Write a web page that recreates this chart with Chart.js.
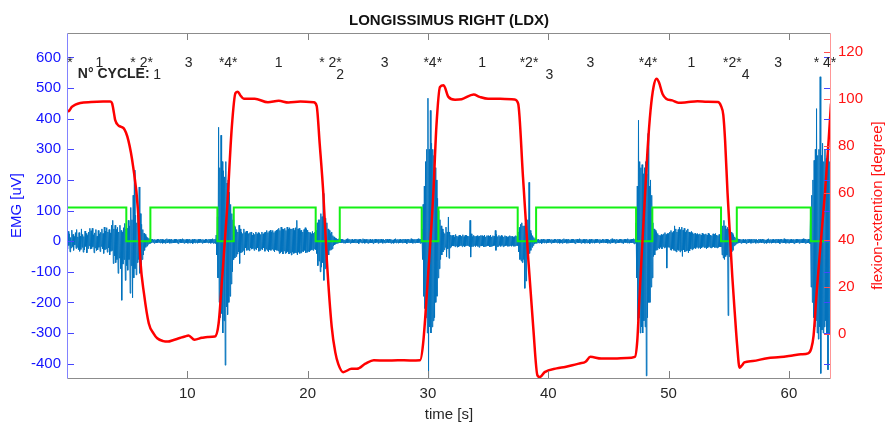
<!DOCTYPE html>
<html>
<head>
<meta charset="utf-8">
<script src="https://cdn.jsdelivr.net/npm/chart.js@4/dist/chart.umd.min.js"></script>
<style>
  html, body { margin: 0; padding: 0; background: #fff; }
  canvas { display: block; }
</style>
</head>
<body>
<canvas id="c" width="885" height="422"></canvas>
<script>
// ---- data -------------------------------------------------------------
// EMG of the right longissimus, one sample every EMG_STEP seconds [uV]
const EMG_STEP = 0.05;
const emgValues = [
  // 0 s
  18,-26,32,-14,24,-35,12,-22,36,-18,22,-30,15,-12,28,-24,38,-20,14,-28,
  28,-33,16,-27,40,-20,22,-36,15,-29,33,-17,25,-38,19,-24,30,-15,42,-26,
  34,-24,42,-18,21,-38,27,-22,38,-31,16,-28,35,-20,24,-34,29,-17,40,-25,
  25,-40,46,-28,33,-25,44,-36,30,-22,38,-45,27,-33,52,-30,68,-73,40,-48,
  52,-70,38,-60,45,-105,30,-55,52,-90,35,-193,30,-75,44,-60,58,-128,40,-80,
  // 5 s
  42,-95,68,-60,50,-170,110,-80,70,-185,150,-120,232,-90,85,-110,60,-70,95,-60,
  177,-105,90,-80,55,-60,38,-45,26,-30,22,-20,15,-16,12,-10,9,-8,8,-7,
  6,-5,7,-4,5,-7,6,-5,4,-6,7,-5,6,-4,5,-6,7,-5,6,-7,
  5,-6,4,-7,6,-5,8,-6,5,-4,6,-7,5,-6,7,-5,4,-6,6,-5,
  7,-5,6,-6,5,-8,6,-4,7,-5,5,-6,8,-5,6,-7,5,-5,6,-6,
  // 10 s
  6,-7,5,-5,7,-6,4,-6,6,-8,5,-5,7,-6,6,-4,5,-7,6,-5,
  6,-5,7,-4,5,-7,6,-5,4,-6,7,-5,6,-4,5,-6,7,-5,6,-7,
  6,-5,8,-7,6,-6,7,-8,20,-45,80,-120,372,-200,240,-250,346,-236,260,-300,
  230,-260,210,-405,260,-215,190,-240,200,-200,160,-180,120,-140,90,-100,70,-60,50,-55,
  45,-50,38,-42,30,-35,52,-73,40,-38,30,-35,25,-30,40,-45,28,-22,33,-30,
  // 15 s
  33,-28,25,-31,28,-22,30,-26,20,-24,26,-30,22,-25,30,-28,24,-22,28,-33,
  26,-30,22,-25,30,-28,24,-22,28,-33,30,-26,35,-30,28,-35,32,-28,36,-30,
  30,-26,35,-30,28,-35,32,-28,36,-30,38,-32,42,-40,35,-38,46,-34,40,-42,
  38,-32,42,-40,35,-38,46,-34,40,-42,44,-38,40,-45,40,-36,42,-40,35,-38,
  44,-38,68,-45,40,-36,42,-40,35,-38,36,-33,30,-35,38,-30,44,-38,40,-36,
  // 20 s
  36,-33,30,-35,28,-30,24,-28,32,-30,26,-25,30,-28,35,-40,60,-80,70,-65,
  70,-100,90,-85,80,-70,156,-128,110,-90,75,-70,60,-55,40,-45,35,-30,25,-28,
  30,-25,18,-15,14,-12,10,-9,8,-7,7,-6,8,-5,6,-6,7,-5,6,-6,
  5,-6,4,-7,6,-5,8,-6,5,-4,6,-7,5,-6,7,-5,4,-6,6,-5,
  7,-5,6,-6,5,-8,6,-4,7,-5,5,-6,8,-5,6,-7,5,-5,6,-6,
  // 25 s
  6,-7,5,-5,7,-6,4,-6,6,-8,5,-5,7,-6,6,-4,5,-7,6,-5,
  6,-5,7,-4,5,-7,6,-5,4,-6,7,-5,6,-4,5,-6,7,-5,6,-7,
  5,-6,4,-7,6,-5,8,-6,5,-4,6,-7,5,-6,7,-5,4,-6,6,-5,
  7,-5,6,-6,5,-8,6,-4,7,-5,5,-6,8,-5,6,-7,5,-5,6,-6,
  6,-5,7,-6,8,-5,6,-7,7,-6,40,-60,120,-180,180,-220,260,-250,300,-300,
  // 30 s
  467,-460,300,-280,427,-300,320,-280,300,-260,280,-250,240,-200,200,-180,140,-120,100,-90,
  70,-60,50,-45,40,-35,30,-28,25,-20,46,-52,30,-25,79,-56,30,-22,20,-18,
  18,-15,20,-16,14,-18,22,-15,17,-20,15,-18,20,-16,19,-14,16,-18,21,-15,
  15,-18,20,-16,19,-14,17,-15,16,-18,68,-52,24,-18,15,-17,19,-14,16,-18,
  16,-14,18,-17,15,-20,17,-15,19,-16,18,-15,16,-19,20,-17,14,-16,18,-15,
  // 35 s
  18,-15,16,-19,20,-17,14,-16,18,-15,16,-14,35,-30,22,-18,15,-17,19,-14,
  15,-17,19,-14,16,-18,14,-16,18,-15,16,-14,13,-17,15,-16,18,-14,16,-17,
  16,-14,13,-17,15,-16,18,-14,16,-15,30,-35,45,-60,55,-65,60,-70,50,-60,
  50,-154,60,-130,55,-55,70,-60,192,-40,35,-30,25,-20,18,-14,12,-9,8,-7,
  6,-7,5,-5,7,-6,4,-6,6,-8,5,-5,7,-6,6,-4,5,-7,6,-5,
  // 40 s
  6,-5,7,-4,5,-7,6,-5,4,-6,7,-5,6,-4,5,-6,7,-5,6,-7,
  5,-6,4,-7,6,-5,8,-6,5,-4,6,-7,5,-6,7,-5,4,-6,6,-5,
  7,-5,6,-6,5,-8,6,-4,7,-5,5,-6,8,-5,6,-7,5,-5,6,-6,
  6,-7,5,-5,7,-6,4,-6,6,-8,5,-5,7,-6,6,-4,5,-7,6,-5,
  6,-5,7,-4,5,-7,6,-5,4,-6,7,-5,6,-4,5,-6,7,-5,6,-7,
  // 45 s
  5,-6,4,-7,6,-5,8,-6,5,-4,6,-7,5,-6,7,-5,4,-6,6,-5,
  7,-5,6,-6,5,-8,6,-4,7,-5,5,-6,8,-5,6,-7,5,-5,6,-6,
  7,-6,8,-9,6,-7,60,-120,180,-258,395,-250,260,-300,240,-280,250,-300,220,-260,
  240,-280,260,-440,220,-250,352,-200,180,-200,200,-150,150,-120,60,-50,40,-45,35,-30,
  30,-28,25,-22,20,-25,18,-20,22,-25,20,-18,24,-22,28,-20,22,-88,25,-20,
  // 50 s
  25,-20,30,-28,35,-30,28,-25,32,-30,50,-32,40,-35,30,-28,38,-30,46,-35,
  38,-30,46,-50,36,-28,42,-35,30,-32,35,-30,40,-38,30,-32,28,-25,32,-28,
  28,-25,24,-22,26,-24,22,-20,25,-23,22,-20,24,-25,20,-22,26,-18,23,-21,
  22,-20,24,-25,20,-22,26,-18,23,-21,20,-22,18,-20,24,-19,22,-21,25,-20,
  20,-22,18,-20,22,-18,20,-19,35,-45,50,-55,68,-60,50,-50,40,-45,45,-243,
  // 55 s
  40,-50,35,-40,30,-35,25,-30,20,-15,14,-12,10,-8,8,-7,7,-6,6,-5,
  6,-7,5,-5,7,-6,4,-6,6,-8,5,-5,7,-6,6,-4,5,-7,6,-5,
  6,-5,7,-4,5,-7,6,-5,4,-6,7,-5,6,-4,5,-6,7,-5,6,-7,
  5,-6,4,-7,6,-5,8,-6,5,-4,6,-7,5,-6,7,-5,4,-6,6,-5,
  7,-5,6,-6,5,-8,6,-4,7,-5,5,-6,8,-5,6,-7,5,-5,6,-6,
  // 60 s
  6,-7,5,-5,7,-6,4,-6,6,-8,5,-5,7,-6,6,-4,5,-7,6,-5,
  6,-5,7,-6,8,-5,6,-7,7,-6,5,-6,7,-5,6,-8,80,-150,150,-200,
  200,-250,264,-280,300,-260,433,-300,280,-320,300,-280,537,-432,280,-290,320,-300,260,-280,
  300,-260,270,-300,280,-420,320,-300,260,-280,300
];

// trunk flexion-extension angle [degree]
const angleTime = [
  0, 0.2, 0.4, 0.7, 1.1, 2.0, 3.0, 3.6, 3.75, 3.9, 4.0, 4.3, 4.7, 5.1, 5.5, 5.9, 6.1, 6.4, 6.8, 7.2, 7.5,
  8.0, 8.4, 8.8, 9.3, 9.8, 10.1, 10.6, 11.2, 11.7, 12.3, 12.6, 12.9, 13.3, 13.7, 14.0, 14.2, 14.4, 14.7,
  15.6, 16.7, 17.6, 18.4, 19.4, 20.5, 20.75, 21.0, 21.3, 21.6, 22.0, 22.3, 22.55, 22.95, 23.65, 24.1,
  24.8, 25.5, 26.5, 27.5, 28.5, 29.35, 29.6, 30.0, 30.45, 30.7, 31.0, 31.3, 31.7, 32.25, 32.8, 33.8,
  34.3, 35.0, 36.0, 37.2, 37.5, 37.9, 38.35, 38.75, 39.1, 39.3, 39.7, 40.7, 41.4, 42.0, 42.6, 43.1, 43.5,
  44.4, 45.5, 46.5, 47.2, 47.4, 47.55, 47.75, 48.0, 48.25, 48.5, 48.75, 49.0, 49.2, 49.5, 49.8, 50.3,
  50.8, 51.5, 52.4, 53.2, 54.1, 54.35, 54.55, 54.7, 54.9, 55.1, 55.3, 55.5, 55.7, 55.9, 56.1, 56.3,
  57.0, 58.2, 59.3, 60.3, 61.0, 61.6, 61.85, 62.05, 62.3, 62.6, 63.0, 63.3, 63.5
];
const angleDeg = [
  94.5, 95, 96.5, 97.5, 98.2, 98.6, 98.8, 98.8, 98, 94, 91, 88.5, 87.5, 82.3, 71, 52.6, 31, 17, 4.3, 0, -2,
  -3.2, -3.4, -2.8, -2, -1.2, -0.8, -2.6, -1.8, -1.4, -1.2, 4.3, 24, 52.6, 88, 102.4, 103, 101.5, 100,
  100, 98.5, 99.1, 98.4, 98.8, 98.5, 97, 81, 60, 31, 3, -8, -13, -16.4, -15, -15,
  -12.8, -11.3, -11.5, -11.3, -11.4, -11.3, -4.2, 24, 60, 88, 105, 105.7, 100.8, 99.6, 99.8, 101.8,
  100.8, 100, 100, 99.7, 97.9, 66.7, 31, 2.8, -17.8, -18.5, -16.4, -14.8, -14.2, -13.5, -12.7, -12, -9.9,
  -10.6, -10.6, -10.4, -9.9, -3, 12, 32, 55, 78, 95, 105, 108.5, 107, 102, 100, 99.3,
  98.3, 98.5, 98.9, 98.7, 98.6, 97, 93, 82, 60, 42, 24, 9, -5, -14.5, -13.5, -12.3,
  -11.7, -10.5, -10, -9.3, -8.8, -8.4, -6.5, -1, 17, 36, 60, 82, 98
];

// movement phase marker (high / low level, on the EMG scale) [uV]
const phaseTime  = [0, 0, 4.93, 6.93, 12.5, 13.86, 20.67, 22.67, 29.48, 30.87, 37.46, 38.99, 47.3, 48.65, 54.36, 55.67, 61.82, 63.5];
const phaseLevel = [0, 110, 0, 110, 0, 110, 0, 110, 0, 110, 0, 110, 0, 110, 0, 110, 0, 0];

// axes
const X_MIN = 0, X_MAX = 63.5;
const EMG_MIN = -447, EMG_MAX = 680;
const ANGLE_MIN = -18.9, ANGLE_MAX = 128;
const xTicks = [10, 20, 30, 40, 50, 60];
const emgTicks = [-400, -300, -200, -100, 0, 100, 200, 300, 400, 500, 600];
const angleTicks = [0, 20, 40, 60, 80, 100, 120];

// phase annotations along the top of the plot
const phaseLabelTime = [0.25, 2.7, 6.2, 10.1, 13.4, 17.6, 21.9, 26.4, 30.4, 34.5, 38.4, 43.5, 48.3, 51.9, 55.3, 59.1, 63.0];
const phaseLabelText = ['*', '1', '* 2*', '3', '*4*', '1', '* 2*', '3', '*4*', '1', '*2*', '3', '*4*', '1', '*2*', '3', '* 4*'];
const PHASE_LABEL_LEVEL = 582;
const cycleTime = [7.5, 22.7, 40.1, 56.4];
const cycleText = ['1', '2', '3', '4'];
const CYCLE_LEVEL = 543;
const CYCLE_CAPTION = 'N° CYCLE:';
const CYCLE_CAPTION_TIME = 0.9;

// ---- drawing ----------------------------------------------------------
const FONT = '"Liberation Sans", Arial, Helvetica, sans-serif';
const BLUE = 'rgb(20,20,255)';
const RED = 'rgb(255,20,20)';
const TEXT = '#262626';

const emgPoints = emgValues.map((v, i) => ({ x: +(i * EMG_STEP).toFixed(3), y: v }));
const anglePoints = angleTime.map((t, i) => ({ x: t, y: angleDeg[i] }));
const phasePoints = phaseTime.map((t, i) => ({ x: t, y: phaseLevel[i] }));

const setTicks = values => scale => { scale.ticks = values.map(v => ({ value: v })); };

// box, inward tick marks, annotations and titles
const framePlugin = {
  id: 'frame',
  afterDatasetsDraw(chart) {
    const { ctx, chartArea: a, scales } = chart;
    const seg = (x1, y1, x2, y2, color) => {
      ctx.strokeStyle = color;
      ctx.beginPath(); ctx.moveTo(x1, y1); ctx.lineTo(x2, y2); ctx.stroke();
    };
    const L = 7;
    ctx.save();
    ctx.lineWidth = 1;
    xTicks.forEach(v => {
      const px = Math.round(scales.x.getPixelForValue(v)) + 0.5;
      seg(px, a.bottom, px, a.bottom - L, '#808080');
      seg(px, a.top, px, a.top + L, '#808080');
    });
    emgTicks.forEach(v => {
      const py = Math.round(scales.yL.getPixelForValue(v)) + 0.5;
      seg(a.left, py, a.left + L, py, 'rgb(70,70,255)');
      seg(a.right, py, a.right - L, py, 'rgb(70,70,255)');
    });
    angleTicks.forEach(v => {
      const py = Math.round(scales.yR.getPixelForValue(v)) + 0.5;
      seg(a.right, py, a.right - L, py, 'rgb(255,80,80)');
    });
    const l = Math.round(a.left) + 0.5, r = Math.round(a.right) - 0.5;
    const t = Math.round(a.top) + 0.5, b = Math.round(a.bottom) + 0.5;
    seg(l, t, r, t, '#8c8c8c');
    seg(l, b, r, b, '#8c8c8c');
    seg(l, t, l, b, 'rgb(130,130,255)');
    seg(r, t, r, b, 'rgb(255,150,150)');

    // phase and cycle annotations
    ctx.fillStyle = TEXT;
    ctx.textBaseline = 'middle';
    ctx.textAlign = 'center';
    ctx.font = '14px ' + FONT;
    const yPhase = scales.yL.getPixelForValue(PHASE_LABEL_LEVEL);
    phaseLabelText.forEach((s, i) => ctx.fillText(s, scales.x.getPixelForValue(phaseLabelTime[i]), yPhase));
    const yCycle = scales.yL.getPixelForValue(CYCLE_LEVEL);
    cycleText.forEach((s, i) => ctx.fillText(s, scales.x.getPixelForValue(cycleTime[i]), yCycle));
    ctx.textAlign = 'left';
    ctx.font = 'bold 14px ' + FONT;
    ctx.fillText(CYCLE_CAPTION, scales.x.getPixelForValue(CYCLE_CAPTION_TIME), yCycle - 1);
    ctx.restore();
  },
  afterDraw(chart) {
    const { ctx, chartArea: a } = chart;
    const cx = (a.left + a.right) / 2, cy = (a.top + a.bottom) / 2;
    ctx.save();
    ctx.textAlign = 'center';
    ctx.textBaseline = 'middle';
    ctx.fillStyle = '#111';
    ctx.font = 'bold 15px ' + FONT;
    ctx.fillText('LONGISSIMUS RIGHT (LDX)', cx, 21);
    ctx.fillStyle = TEXT;
    ctx.font = '15px ' + FONT;
    ctx.fillText('time [s]', cx, 415);
    ctx.save();
    ctx.translate(17, cy); ctx.rotate(-Math.PI / 2);
    ctx.fillStyle = BLUE; ctx.fillText('EMG [uV]', 0, 0);
    ctx.restore();
    ctx.save();
    ctx.translate(878, cy); ctx.rotate(-Math.PI / 2);
    ctx.fillStyle = RED; ctx.fillText('flexion-extention [degree]', 0, 0);
    ctx.restore();
    ctx.restore();
  }
};

new Chart(document.getElementById('c'), {
  type: 'line',
  data: {
    datasets: [
      { label: 'flexion-extension', yAxisID: 'yR', data: anglePoints, borderColor: 'rgb(255,0,0)',
        borderWidth: 2.5, pointRadius: 0, cubicInterpolationMode: 'monotone', order: 1 },
      { label: 'phase', yAxisID: 'yL', data: phasePoints, borderColor: 'rgb(20,240,20)',
        borderWidth: 2, pointRadius: 0, stepped: true, order: 2 },
      { label: 'EMG', yAxisID: 'yL', data: emgPoints, borderColor: 'rgb(0,114,189)',
        borderWidth: 1, pointRadius: 0, tension: 0, order: 3 }
    ]
  },
  options: {
    responsive: false,
    animation: false,
    devicePixelRatio: 1,
    layout: { padding: { top: 33, left: 0, right: 0, bottom: 0 } },
    plugins: { legend: { display: false }, tooltip: { enabled: false }, title: { display: false } },
    scales: {
      x: {
        type: 'linear', min: X_MIN, max: X_MAX,
        afterBuildTicks: setTicks(xTicks),
        afterFit: s => { s.height = 44; },
        grid: { display: false, drawTicks: false }, border: { display: false },
        ticks: { color: TEXT, font: { family: FONT, size: 15 }, padding: 7, maxRotation: 0, autoSkip: false }
      },
      yL: {
        type: 'linear', position: 'left', min: EMG_MIN, max: EMG_MAX,
        afterBuildTicks: setTicks(emgTicks),
        afterFit: s => { s.width = 67; },
        grid: { display: false, drawTicks: false }, border: { display: false },
        ticks: { color: BLUE, font: { family: FONT, size: 15 }, padding: 6, autoSkip: false }
      },
      yR: {
        type: 'linear', position: 'right', min: ANGLE_MIN, max: ANGLE_MAX,
        afterBuildTicks: setTicks(angleTicks),
        afterFit: s => { s.width = 54; },
        grid: { display: false, drawTicks: false }, border: { display: false },
        ticks: { color: RED, font: { family: FONT, size: 15 }, padding: 7, autoSkip: false }
      }
    }
  },
  plugins: [framePlugin]
});
</script>
</body>
</html>
